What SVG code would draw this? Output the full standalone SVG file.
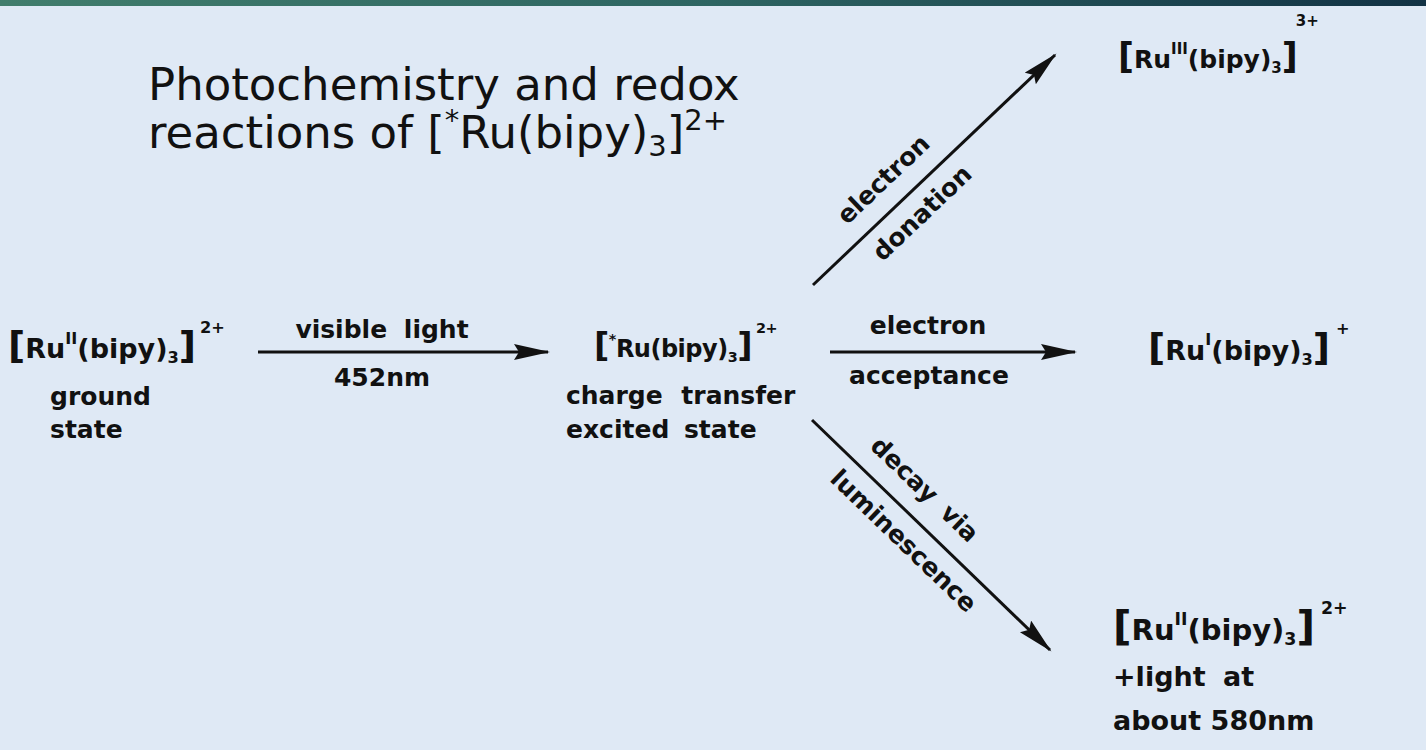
<svg xmlns="http://www.w3.org/2000/svg" width="1426" height="750" viewBox="0 0 1426 750">
<defs>
<linearGradient id="bar" x1="0" y1="0" x2="1" y2="0">
<stop offset="0" stop-color="#417d6c"/>
<stop offset="0.5" stop-color="#2e6562"/>
<stop offset="1" stop-color="#123244"/>
</linearGradient>
<marker id="ah" markerUnits="userSpaceOnUse" markerWidth="38" markerHeight="18" refX="34" refY="8" orient="auto">
<path d="M0,0 L36,8 L0,16 L5,8 z" fill="#111"/>
</marker>
<style>
.t{font-family:"DejaVu Sans",Verdana,sans-serif;font-weight:bold;font-size:25px;fill:#111}
.br{font-size:1.4em}
.sp{font-size:0.6em}
.title{font-family:"DejaVu Sans",Verdana,sans-serif;font-size:45px;fill:#111}
.tsp{font-size:29px}
.ln{stroke:#111;stroke-width:3;fill:none}
</style>
</defs>
<rect x="0" y="0" width="1426" height="750" fill="#dfe9f5"/>
<rect x="0" y="0" width="1426" height="6" fill="url(#bar)"/>

<g id="title">
<text class="title" x="148" y="100">Photochemistry and redox</text>
<text class="title" x="148" y="148">reactions of [<tspan class="tsp" dy="-18">*</tspan><tspan dy="18">Ru(bipy)</tspan><tspan class="tsp" dy="8">3</tspan><tspan dy="-8">]</tspan><tspan class="tsp" dy="-18">2+</tspan></text>
</g>

<g id="connectors">
<line class="ln" x1="258" y1="352" x2="548" y2="352" marker-end="url(#ah)"/>
<line class="ln" x1="830" y1="352" x2="1075" y2="352" marker-end="url(#ah)"/>
<line class="ln" x1="813" y1="285" x2="1055" y2="55" marker-end="url(#ah)"/>
<line class="ln" x1="812" y1="420" x2="1050" y2="650" marker-end="url(#ah)"/>
</g>

<g id="labels">
<text class="t" x="382" y="338" text-anchor="middle" word-spacing="8">visible light</text>
<text class="t" x="382" y="386" text-anchor="middle">452nm</text>
<text class="t" x="928" y="334" text-anchor="middle">electron</text>
<text class="t" x="929" y="384" text-anchor="middle">acceptance</text>
<g transform="translate(903,200) rotate(-43.5)"><text class="t" x="0" y="-20" text-anchor="middle">electron</text></g>
<g transform="translate(906,196) rotate(-43.5)"><text class="t" x="0" y="32" text-anchor="middle">donation</text></g>
<g transform="translate(905,510) rotate(44)"><text class="t" x="0" y="-20" text-anchor="middle" word-spacing="6">decay via</text></g>
<g transform="translate(920,524) rotate(44)"><text class="t" x="0" y="32" text-anchor="middle">luminescence</text></g>
</g>

<g id="ground">
<text class="t" style="font-size:27px" x="8" y="358"><tspan class="br">[</tspan>Ru<tspan class="sp" dy="-14">II</tspan><tspan dy="14">(bipy)</tspan><tspan class="sp" dy="5">3</tspan><tspan class="br" dy="-5">]</tspan><tspan class="sp" dx="4" dy="-25">2+</tspan></text>
<text class="t" x="50" y="405">ground</text>
<text class="t" x="50" y="438">state</text>
</g>

<g id="excited">
<text class="t" style="font-size:24px;letter-spacing:-0.5px" x="594" y="357"><tspan class="br">[</tspan><tspan class="sp" dy="-13">*</tspan><tspan dy="13">Ru(bipy)</tspan><tspan class="sp" dy="5">3</tspan><tspan class="br" dy="-5">]</tspan><tspan class="sp" dx="4" dy="-24">2+</tspan></text>
<text class="t" x="566" y="404" word-spacing="10">charge transfer</text>
<text class="t" x="566" y="438" word-spacing="6">excited state</text>
</g>

<g id="oxidised">
<text class="t" x="1118" y="68"><tspan class="br">[</tspan>Ru<tspan class="sp" dy="-14">III</tspan><tspan dy="14">(bipy)</tspan><tspan class="sp" dy="5">3</tspan><tspan class="br" dy="-5">]</tspan><tspan class="sp" dx="-2" dy="-42">3+</tspan></text>
</g>

<g id="reduced">
<text class="t" style="font-size:27px" x="1148" y="360"><tspan class="br">[</tspan>Ru<tspan class="sp" dy="-15">I</tspan><tspan dy="15">(bipy)</tspan><tspan class="sp" dy="5">3</tspan><tspan class="br" dy="-5">]</tspan><tspan class="sp" dx="6" dy="-26">+</tspan></text>
</g>

<g id="luminescent">
<text class="t" style="font-size:29px" x="1113" y="640"><tspan class="br">[</tspan>Ru<tspan class="sp" dy="-15">II</tspan><tspan dy="15">(bipy)</tspan><tspan class="sp" dy="5">3</tspan><tspan class="br" dy="-5">]</tspan><tspan class="sp" dx="6" dy="-26">2+</tspan></text>
<text class="t" style="font-size:27px" x="1113" y="686" word-spacing="8">+light at</text>
<text class="t" style="font-size:27px" x="1113" y="730">about 580nm</text>
</g>
</svg>
